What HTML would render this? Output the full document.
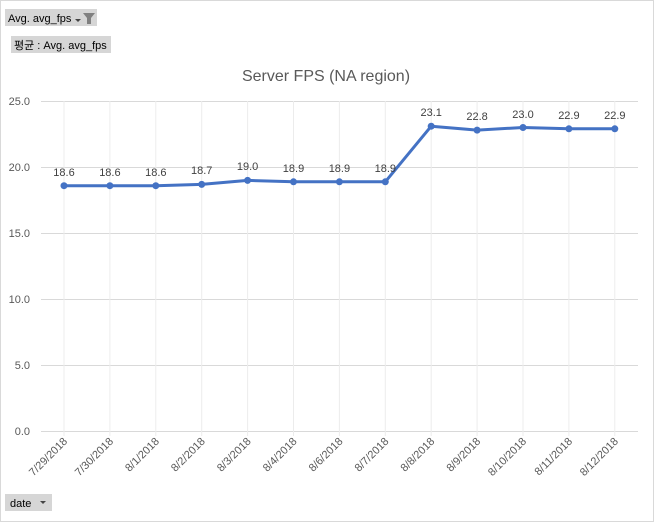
<!DOCTYPE html>
<html><head><meta charset="utf-8"><style>
body{margin:0;background:#fff;}
svg text{font-family:"Liberation Sans","Noto Sans CJK KR",sans-serif;}
</style></head><body>
<svg width="654" height="522" xmlns="http://www.w3.org/2000/svg">
<rect x="0.5" y="0.5" width="653" height="521" fill="#fff" stroke="#d9d9d9"/>
<rect x="5" y="9" width="92" height="17" fill="#d6d6d6"/>
<text x="8" y="22" font-size="11" fill="#000">Avg. avg_fps</text>
<path d="M75 19 L81 19 L78 22 Z" fill="#444"/>
<path d="M83 13 L95 13 L91 18 L91 24 L87 24 L87 18 Z" fill="#808080"/>
<rect x="11" y="36" width="100" height="17" fill="#d6d6d6"/>
<text x="14" y="49" font-size="11" fill="#000">평균 : Avg. avg_fps</text>
<text x="326" y="81" font-size="16" fill="#595959" text-anchor="middle">Server FPS (NA region)</text>
<g stroke="#d9d9d9" stroke-width="1">
<line x1="41" y1="101.5" x2="638" y2="101.5"/>
<line x1="41" y1="167.5" x2="638" y2="167.5"/>
<line x1="41" y1="233.5" x2="638" y2="233.5"/>
<line x1="41" y1="299.5" x2="638" y2="299.5"/>
<line x1="41" y1="365.5" x2="638" y2="365.5"/>
<line x1="41" y1="431.5" x2="638" y2="431.5"/>
</g>
<g stroke="#ececec" stroke-width="1">
<line x1="64" y1="101" x2="64" y2="436"/><line x1="109.9" y1="101" x2="109.9" y2="436"/>
<line x1="155.8" y1="101" x2="155.8" y2="436"/><line x1="201.7" y1="101" x2="201.7" y2="436"/>
<line x1="247.6" y1="101" x2="247.6" y2="436"/><line x1="293.5" y1="101" x2="293.5" y2="436"/>
<line x1="339.4" y1="101" x2="339.4" y2="436"/><line x1="385.3" y1="101" x2="385.3" y2="436"/>
<line x1="431.2" y1="101" x2="431.2" y2="436"/><line x1="477.1" y1="101" x2="477.1" y2="436"/>
<line x1="523" y1="101" x2="523" y2="436"/><line x1="568.9" y1="101" x2="568.9" y2="436"/>
<line x1="614.8" y1="101" x2="614.8" y2="436"/>
</g>
<g font-size="11" fill="#595959" text-anchor="end">
<text x="30" y="105">25.0</text><text x="30" y="171">20.0</text><text x="30" y="237">15.0</text>
<text x="30" y="303">10.0</text><text x="30" y="369">5.0</text><text x="30" y="435">0.0</text>
</g>
<path d="M64 185.7 L109.9 185.7 L155.8 185.7 L201.7 184.4 L247.6 180.4 L293.5 181.8 L339.4 181.8 L385.3 181.8 L431.2 126.2 L477.1 130.1 L523 127.5 L568.9 128.8 L614.8 128.8" fill="none" stroke="#4472c4" stroke-width="3" stroke-linejoin="round"/>
<g fill="#4472c4">
<circle cx="64" cy="185.7" r="3.5"/><circle cx="109.9" cy="185.7" r="3.5"/><circle cx="155.8" cy="185.7" r="3.5"/>
<circle cx="201.7" cy="184.4" r="3.5"/><circle cx="247.6" cy="180.4" r="3.5"/><circle cx="293.5" cy="181.8" r="3.5"/>
<circle cx="339.4" cy="181.8" r="3.5"/><circle cx="385.3" cy="181.8" r="3.5"/><circle cx="431.2" cy="126.2" r="3.5"/>
<circle cx="477.1" cy="130.1" r="3.5"/><circle cx="523" cy="127.5" r="3.5"/><circle cx="568.9" cy="128.8" r="3.5"/>
<circle cx="614.8" cy="128.8" r="3.5"/>
</g>
<g font-size="11" fill="#404040" text-anchor="middle">
<text x="64" y="176">18.6</text><text x="109.9" y="176">18.6</text><text x="155.8" y="176">18.6</text>
<text x="201.7" y="174">18.7</text><text x="247.6" y="170">19.0</text><text x="293.5" y="172">18.9</text>
<text x="339.4" y="172">18.9</text><text x="385.3" y="172">18.9</text><text x="431.2" y="116">23.1</text>
<text x="477.1" y="120">22.8</text><text x="523" y="118">23.0</text><text x="568.9" y="119">22.9</text>
<text x="614.8" y="119">22.9</text>
</g>
<g font-size="11" fill="#595959" text-anchor="end">
<text transform="translate(68,442) rotate(-45)">7/29/2018</text>
<text transform="translate(113.9,442) rotate(-45)">7/30/2018</text>
<text transform="translate(159.8,442) rotate(-45)">8/1/2018</text>
<text transform="translate(205.7,442) rotate(-45)">8/2/2018</text>
<text transform="translate(251.6,442) rotate(-45)">8/3/2018</text>
<text transform="translate(297.5,442) rotate(-45)">8/4/2018</text>
<text transform="translate(343.4,442) rotate(-45)">8/6/2018</text>
<text transform="translate(389.3,442) rotate(-45)">8/7/2018</text>
<text transform="translate(435.2,442) rotate(-45)">8/8/2018</text>
<text transform="translate(481.1,442) rotate(-45)">8/9/2018</text>
<text transform="translate(527,442) rotate(-45)">8/10/2018</text>
<text transform="translate(572.9,442) rotate(-45)">8/11/2018</text>
<text transform="translate(618.8,442) rotate(-45)">8/12/2018</text>
</g>
<rect x="5" y="494" width="47" height="17" fill="#d6d6d6"/>
<text x="10" y="507" font-size="11" fill="#000">date</text>
<path d="M40 501 L46 501 L43 504 Z" fill="#444"/>
</svg>
</body></html>
